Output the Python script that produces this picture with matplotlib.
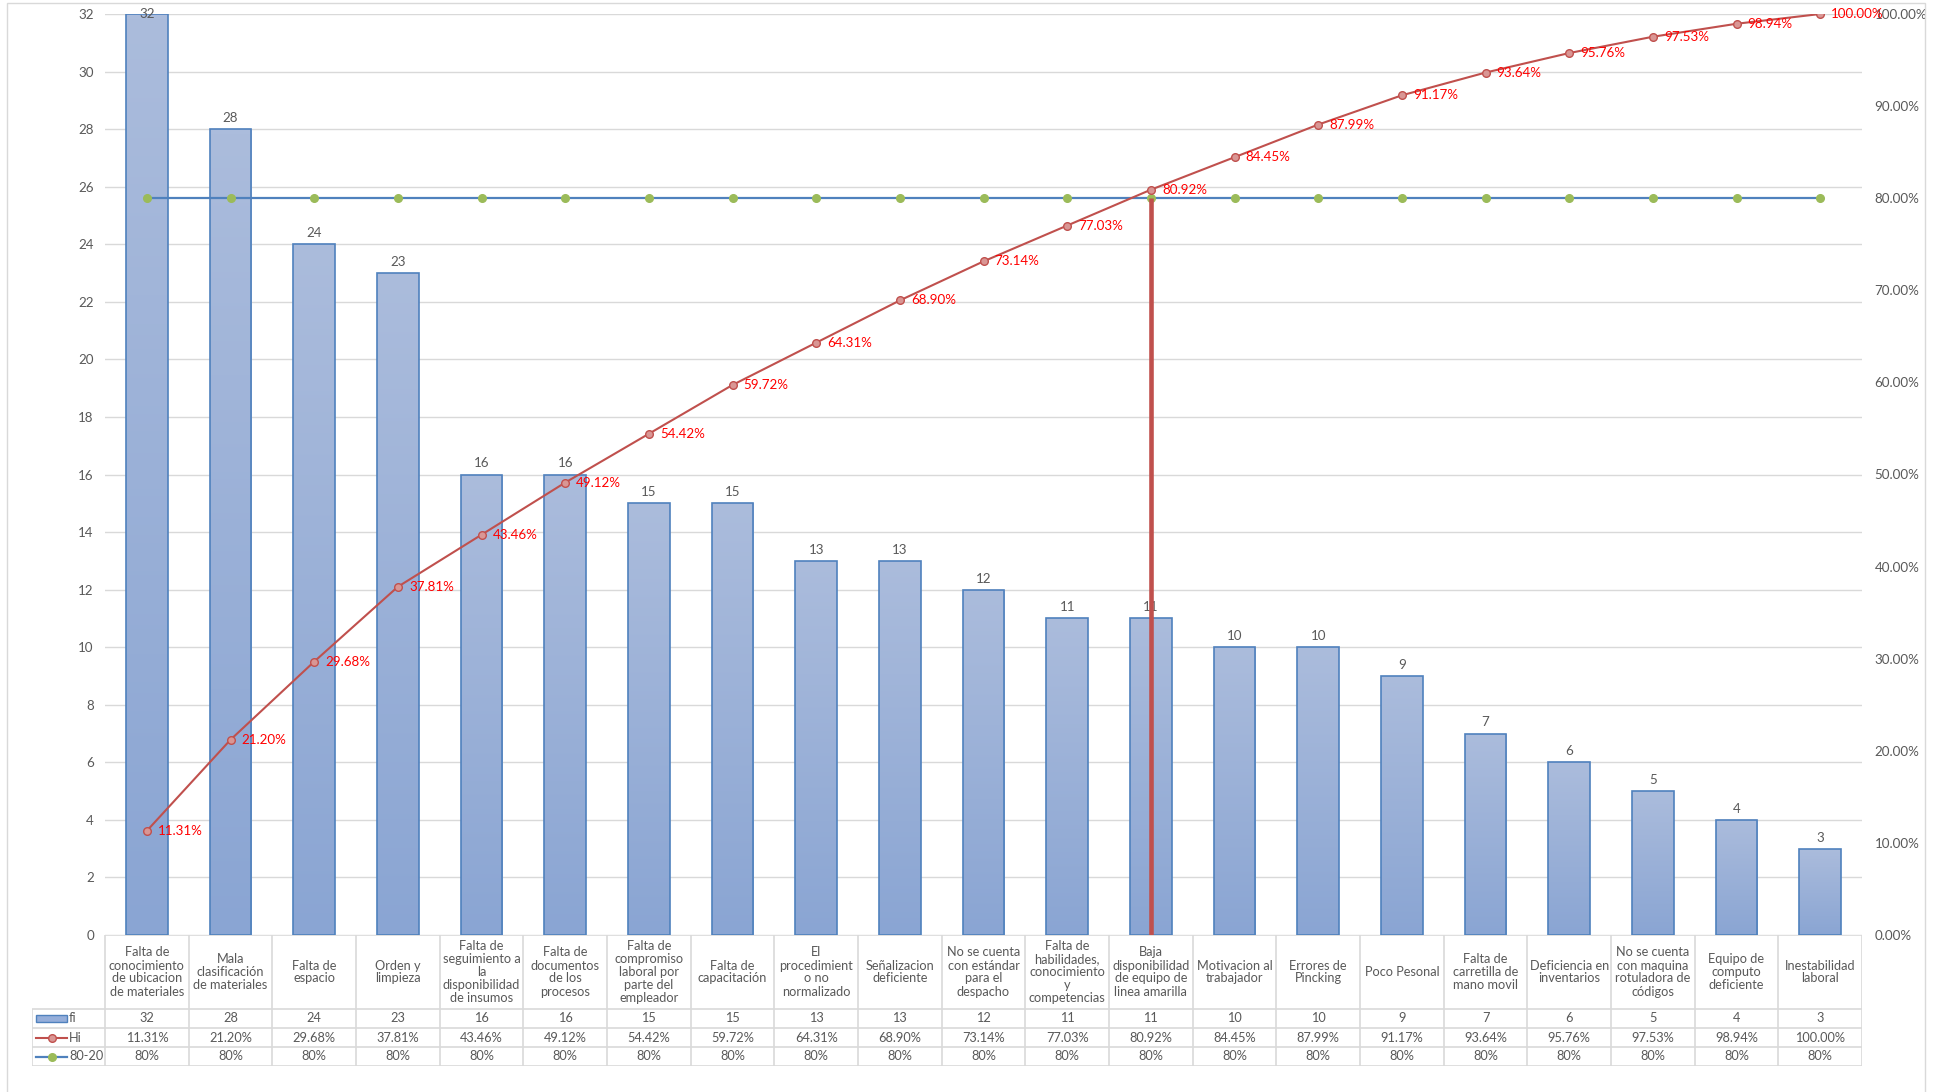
import numpy as np
import matplotlib
matplotlib.use("Agg")
import matplotlib.pyplot as plt
from matplotlib.patches import Rectangle
from matplotlib.lines import Line2D
from matplotlib.colors import LinearSegmentedColormap

plt.rcParams["font.family"] = ["Lato", "DejaVu Sans"]

# ---- data -----------------------------------------------------------------
categories = [
    "Falta de\nconocimiento\nde ubicacion\nde materiales",
    "Mala\nclasificación\nde materiales",
    "Falta de\nespacio",
    "Orden y\nlimpieza",
    "Falta de\nseguimiento a\nla\ndisponibilidad\nde insumos",
    "Falta de\ndocumentos\nde los\nprocesos",
    "Falta de\ncompromiso\nlaboral por\nparte del\nempleador",
    "Falta de\ncapacitación",
    "El\nprocedimient\no no\nnormalizado",
    "Señalizacion\ndeficiente",
    "No se cuenta\ncon estándar\npara el\ndespacho",
    "Falta de\nhabilidades,\nconocimiento\ny\ncompetencias",
    "Baja\ndisponibilidad\nde equipo de\nlinea amarilla",
    "Motivacion al\ntrabajador",
    "Errores de\nPincking",
    "Poco Pesonal",
    "Falta de\ncarretilla de\nmano movil",
    "Deficiencia en\ninventarios",
    "No se cuenta\ncon maquina\nrotuladora de\ncódigos",
    "Equipo de\ncomputo\ndeficiente",
    "Inestabilidad\nlaboral",
]
fi = [32, 28, 24, 23, 16, 16, 15, 15, 13, 13, 12, 11, 11, 10, 10, 9, 7, 6, 5, 4, 3]
hi = [11.31, 21.20, 29.68, 37.81, 43.46, 49.12, 54.42, 59.72, 64.31, 68.90, 73.14,
      77.03, 80.92, 84.45, 87.99, 91.17, 93.64, 95.76, 97.53, 98.94, 100.00]
pareto = [80] * 21
left_ticks = list(range(0, 33, 2))
right_ticks = list(range(0, 101, 10))

# ---- styling --------------------------------------------------------------
GRAY_TXT = "#595959"
GRID = "#D9D9D9"
BAR_EDGE = "#4F81BD"
RED = "#C0504D"
PINK = "#D99694"
GREEN = "#9BBB59"
LABEL_RED = "#FF0000"
FS = 9.6      # axis and data labels
TFS = 9.2     # table text

W, H = 1937, 1092
fig = plt.figure(figsize=(W / 100, H / 100), dpi=100)

# plot area in pixels
PL, PR, PT, PB = 105, 1862, 14, 935
ax = fig.add_axes([PL / W, 1 - PB / H, (PR - PL) / W, (PB - PT) / H])

n = len(fi)
x = np.arange(n)
ax.set_xticks([])
ax.set_yticks(left_ticks)
ax.yaxis.grid(True, color=GRID, lw=1.0)
ax.set_axisbelow(True)
for s in ax.spines.values():
    s.set_visible(False)
ax.tick_params(axis="y", length=0, labelcolor=GRAY_TXT, labelsize=FS, pad=8)

# bars with a vertical gradient fill
cmap = LinearSegmentedColormap.from_list("barfill", ["#8AA5D3", "#ABBCDC"])
grad = np.linspace(1, 0, 256).reshape(-1, 1)
bars = ax.bar(x, fi, width=0.5, facecolor="none", edgecolor=BAR_EDGE, lw=1.2, zorder=3)
for b in bars:
    x0, y0 = b.get_x(), b.get_y()
    im = ax.imshow(grad, extent=(x0, x0 + b.get_width(), y0, y0 + b.get_height()),
                   aspect="auto", cmap=cmap, vmin=0, vmax=1, origin="upper", zorder=2,
                   interpolation="bilinear")
    im.set_clip_path(b)
ax.set_xlim(-0.5, n - 0.5)
ax.set_ylim(left_ticks[0], left_ticks[-1])

ymax = left_ticks[-1]
for xi, v in zip(x, fi):
    off = 8 if v < ymax - 0.5 else 0
    ax.annotate(str(v), (xi, v), xytext=(0, off), textcoords="offset points",
                ha="center", va="center", fontsize=FS, color=GRAY_TXT, zorder=4)

# cumulative percentage axis
ax2 = ax.twinx()
ax2.set_ylim(right_ticks[0], right_ticks[-1])
ax2.set_yticks(right_ticks)
ax2.set_yticklabels([f"{t:.2f}%" for t in right_ticks])
for s in ax2.spines.values():
    s.set_visible(False)
ax2.tick_params(axis="y", length=0, labelcolor=GRAY_TXT, labelsize=FS, pad=9)

ax2.plot(x, pareto, color=BAR_EDGE, lw=1.6, marker="o", ms=5.5,
         mfc=GREEN, mec=GREEN, zorder=3)
ax2.plot(x, hi, color=RED, lw=1.5, marker="o", ms=5.5,
         mfc=PINK, mec=RED, mew=1.0, zorder=4)
for xi, h in zip(x, hi):
    ax2.annotate(f"{h:.2f}%", (xi, h), xytext=(8, 0), textcoords="offset points",
                 ha="left", va="center", fontsize=FS, color=LABEL_RED, zorder=6)

# cut-off marker where the cumulative share first reaches the 80% line
cut = next(i for i, (h, p) in enumerate(zip(hi, pareto)) if h >= p)
ax2.vlines(x[cut], 0, pareto[cut], color=RED, lw=3.3, zorder=5)

# ---- data table underneath ---------------------------------------------------
TL, TB = 32, 1066
rows_px = [PB, 1009, 1028, 1047, TB]
tax = fig.add_axes([TL / W, 1 - TB / H, (PR - TL) / W, (TB - PB) / H])
cw = (PR - PL) / n
leg_w = (PL - TL) / cw
tax.set_xlim(-0.5 - leg_w, n - 0.5)
tax.set_ylim(TB, PB)
tax.axis("off")

LINE = "#D9D9D9"
tax.hlines(rows_px[0], -0.5, n - 0.5, color=LINE, lw=1.2)
for yy in rows_px[1:]:
    tax.hlines(yy, -0.5 - leg_w, n - 0.5, color=LINE, lw=1.2)
for k in range(n + 1):
    tax.vlines(-0.5 + k, rows_px[0], rows_px[-1], color=LINE, lw=1.2)
tax.vlines(-0.5 - leg_w, rows_px[1], rows_px[-1], color=LINE, lw=1.2)

mid = [(a + b) / 2 for a, b in zip(rows_px[:-1], rows_px[1:])]
row_vals = [
    [str(v) for v in fi],
    [f"{h:.2f}%" for h in hi],
    [f"{p}%" for p in pareto],
]
for i, cat in enumerate(categories):
    tax.text(i, mid[0], cat, ha="center", va="center", fontsize=TFS,
             color=GRAY_TXT, linespacing=1.1)
    for r, vals in enumerate(row_vals):
        tax.text(i, mid[r + 1], vals[i], ha="center", va="center",
                 fontsize=TFS, color=GRAY_TXT)

# legend keys in the first column
def px2x(px):
    return -0.5 + (px - PL) / cw

kx0, kx1, tx = px2x(36), px2x(67), px2x(69)
kxm = (kx0 + kx1) / 2
tax.add_patch(Rectangle((kx0, mid[1] - 3.5), kx1 - kx0, 7, facecolor="#95AEDA",
                        edgecolor=BAR_EDGE, lw=1.0))
tax.add_line(Line2D([kx0, kx1], [mid[2], mid[2]], color=RED, lw=1.5))
tax.plot([kxm], [mid[2]], marker="o", ms=5.5, mfc=PINK, mec=RED, mew=1.0)
tax.add_line(Line2D([kx0, kx1], [mid[3], mid[3]], color=BAR_EDGE, lw=1.6))
tax.plot([kxm], [mid[3]], marker="o", ms=5.5, mfc=GREEN, mec=GREEN)
for r, name in enumerate(["fi", "Hi", "80-20"]):
    tax.text(tx, mid[r + 1], name, ha="left", va="center", fontsize=TFS,
             color=GRAY_TXT)

# chart frame
fig.patches.append(Rectangle((7 / W, -0.02), (1925 - 7) / W, 1 - 3 / H + 0.02,
                             transform=fig.transFigure, fill=False,
                             edgecolor=GRID, lw=1.0))

fig.savefig("out.png", dpi=100)
